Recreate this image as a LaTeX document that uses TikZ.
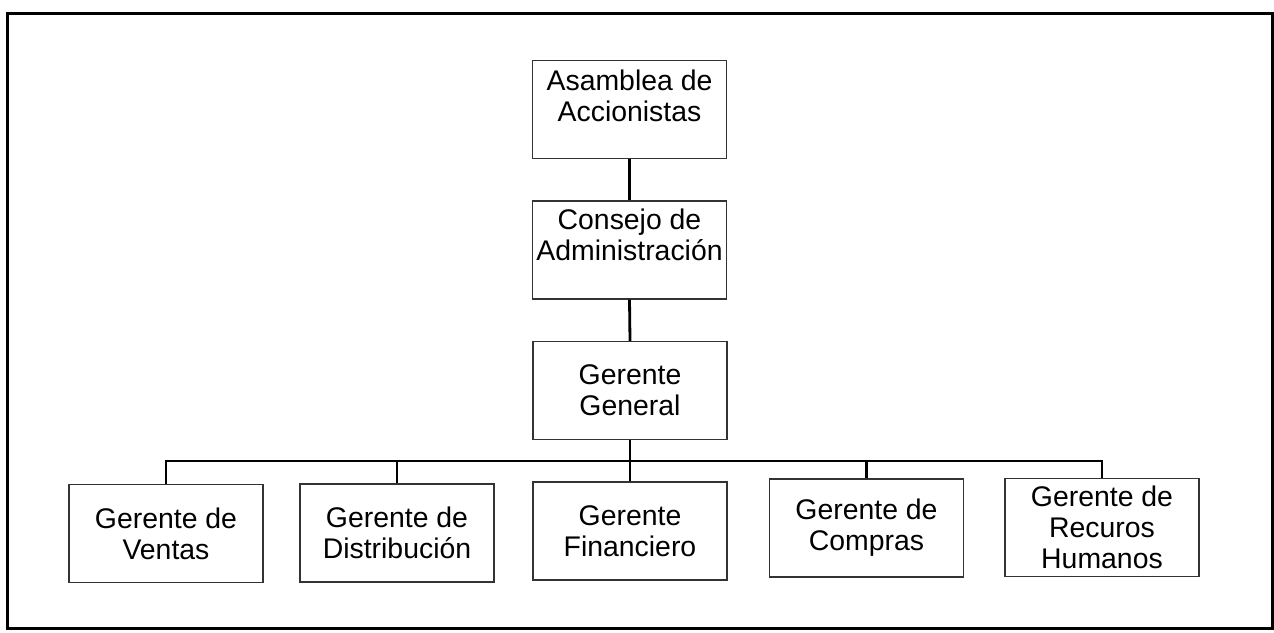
\documentclass[tikz,border=0pt]{standalone}
\usepackage{fontspec}
\setmainfont{Liberation Sans}
\begin{document}
\begin{tikzpicture}[x=0.5pt,y=-0.5pt,
  box/.style={draw=black!80, line width=0.7pt, rectangle, minimum width=97pt, minimum height=49pt, inner sep=0pt, align=center, font=\fontsize{14.2}{15.6}\selectfont},
  toptext/.style={anchor=north, inner sep=0pt, align=center, font=\fontsize{14.2}{15.6}\selectfont},
  link/.style={draw=black, line width=1.4pt}]
\useasboundingbox (0,0) rectangle (1274,632);
\draw[line width=1.5pt] (7,13) rectangle (1272,628);
% top boxes
\node[box] (asamblea) at (629.5,109.5) {};
\node[toptext] (asambleaT) at ([yshift=-5pt]asamblea.north) {Asamblea de\\Accionistas};
\node[box] (consejo) at (629.5,250) {};
\node[toptext] (consejoT) at ([yshift=-4pt]consejo.north) {Consejo de\\Administración};
\node[box] (gg) at (630,390.5) {Gerente\\General};
% bottom boxes
\node[box] (ventas) at (166,533.5) {Gerente de\\Ventas};
\node[box] (dist) at (397,533) {Gerente de\\Distribución};
\node[box] (fin) at (630,531) {Gerente\\Financiero};
\node[box] (compras) at (866.5,528) {Gerente de\\Compras};
\node[box] (rrhh) at (1102,527.5) {Gerente de\\Recuros\\Humanos};
\coordinate (bus) at (630,461);
% connectors
\draw[link] (asamblea.south) -- (consejo.north);
\draw[link] (consejo.south) -- (gg.north);
\draw[link] (gg.south) -- (bus);
\draw[link] (ventas.north) |- (bus) -| (rrhh.north);
\draw[link] (dist.north) -- (dist.north |- bus);
\draw[link] (fin.north) -- (fin.north |- bus);
\draw[link] (compras.north) -- (compras.north |- bus);
\end{tikzpicture}
\end{document}
